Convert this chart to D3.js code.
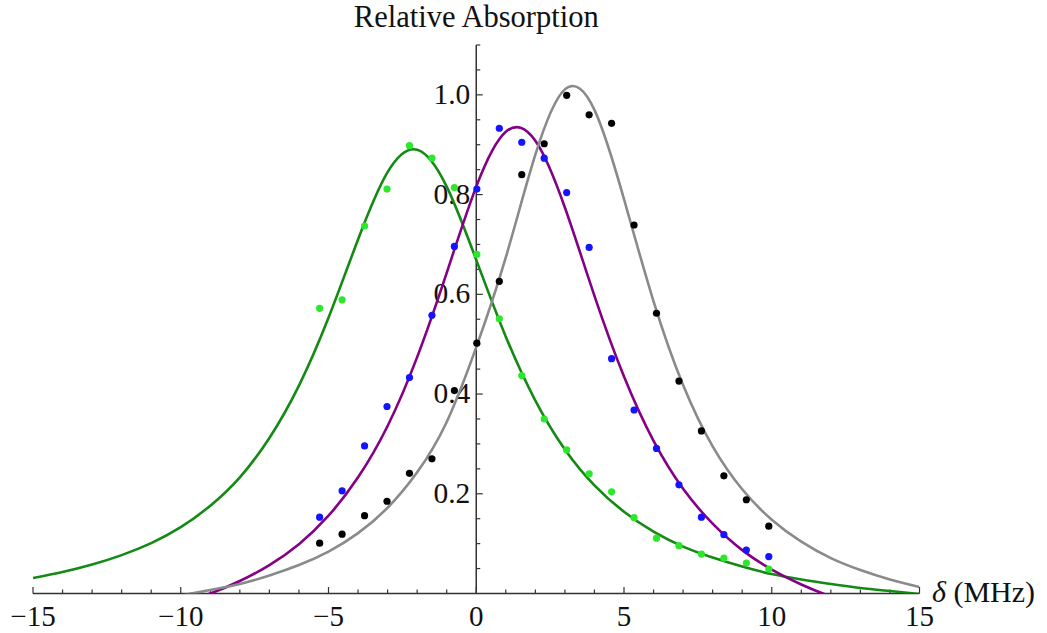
<!DOCTYPE html>
<html>
<head>
<meta charset="utf-8">
<script src="https://cdn.jsdelivr.net/npm/d3@7"></script>
<style>
  body { margin: 0; background: #fff; }
  text { font-family: "Liberation Serif", "Times New Roman", serif; fill: #111; }
</style>
</head>
<body>
<div id="chart"></div>
<script>
// measured detunings (MHz) shared by all three data sets
const xData = [-5.3, -4.54, -3.78, -3.02, -2.26, -1.5, -0.74, 0.02, 0.78, 1.54, 2.3,
  3.06, 3.82, 4.58, 5.34, 6.1, 6.86, 7.62, 8.38, 9.14, 9.9];

const greenPts = [0.572, 0.589, 0.737, 0.811, 0.898, 0.873, 0.814, 0.680, 0.551, 0.437, 0.350,
  0.288, 0.240, 0.204, 0.152, 0.111, 0.096, 0.079, 0.071, 0.061, 0.049];
const bluePts = [0.153, 0.206, 0.296, 0.375, 0.433, 0.558, 0.696, 0.811, 0.933, 0.905, 0.873,
  0.804, 0.694, 0.471, 0.368, 0.291, 0.218, 0.153, 0.118, 0.087, 0.074];
const blackPts = [0.101, 0.119, 0.156, 0.185, 0.241, 0.270, 0.407, 0.502, 0.626, 0.840, 0.902,
  0.999, 0.960, 0.943, 0.739, 0.562, 0.426, 0.326, 0.236, 0.188, 0.135];

// fitted curves at whole MHz steps
const xCurve = d3.range(-15, 16);
const greenFit = [0.031, 0.043, 0.058, 0.077, 0.101, 0.133, 0.176, 0.233, 0.312, 0.417, 0.553,
  0.710, 0.845, 0.890, 0.816, 0.669, 0.515, 0.387, 0.289, 0.217, 0.164, 0.124, 0.094, 0.072,
  0.054, 0.039, 0.028, 0.019, 0.011, 0.005, -0.001];
const purpleFit = [-0.073, -0.066, -0.058, -0.047, -0.035, -0.019, 0.000, 0.025, 0.057, 0.099,
  0.156, 0.233, 0.336, 0.474, 0.643, 0.816, 0.926, 0.908, 0.774, 0.597, 0.435, 0.306, 0.210,
  0.140, 0.087, 0.048, 0.018, -0.006, -0.024, -0.038, -0.050];
const grayFit = [-0.033, -0.029, -0.024, -0.019, -0.012, -0.004, 0.007, 0.019, 0.036, 0.057,
  0.084, 0.121, 0.172, 0.243, 0.344, 0.494, 0.674, 0.880, 1.011, 0.970, 0.791, 0.586, 0.418,
  0.295, 0.209, 0.148, 0.104, 0.071, 0.047, 0.028, 0.013];

const xTicks = [-15, -10, -5, 0, 5, 10, 15];
const yTicks = [0.2, 0.4, 0.6, 0.8, 1.0];

const width = 1047, height = 633;
const svg = d3.select("#chart").append("svg")
  .attr("width", width)
  .attr("height", height);

// scales
const x = d3.scaleLinear().domain([-15, 15]).range([33, 919.5]);
const y = d3.scaleLinear().domain([0, 1.1]).range([593.5, 45]);

svg.append("clipPath").attr("id", "plotClip")
  .append("rect")
  .attr("x", x(-15)).attr("y", y(1.1))
  .attr("width", x(15) - x(-15)).attr("height", y(0) - y(1.1));

// axes
const axisColor = "#333";
svg.append("line")
  .attr("x1", x(-15)).attr("x2", x(15))
  .attr("y1", y(0)).attr("y2", y(0))
  .attr("stroke", axisColor).attr("stroke-width", 1.5);
svg.append("line")
  .attr("x1", x(0)).attr("x2", x(0))
  .attr("y1", y(0)).attr("y2", y(1.1))
  .attr("stroke", axisColor).attr("stroke-width", 1.5);

// x ticks: major every 5, minor every 1, pointing up
svg.selectAll(".xtick")
  .data(d3.range(-15, 16))
  .enter().append("line")
  .attr("x1", d => x(d)).attr("x2", d => x(d))
  .attr("y1", y(0))
  .attr("y2", d => y(0) - (d % 5 === 0 ? 6.5 : 4))
  .attr("stroke", axisColor).attr("stroke-width", 1.2);

svg.selectAll(".xlabel")
  .data(xTicks)
  .enter().append("text")
  .attr("x", d => x(d))
  .attr("y", y(0) + 32)
  .attr("text-anchor", "middle")
  .style("font-size", "29px")
  .text(d => d < 0 ? "\u2212" + Math.abs(d) : d);

// y ticks: major every 0.2, minor every 0.05, pointing right
svg.selectAll(".ytick")
  .data(d3.range(1, 23).map(i => i * 0.05))
  .enter().append("line")
  .attr("x1", x(0))
  .attr("x2", (d, i) => x(0) + ((i + 1) % 4 === 0 ? 6.5 : 4))
  .attr("y1", d => y(d)).attr("y2", d => y(d))
  .attr("stroke", axisColor).attr("stroke-width", 1.2);

svg.selectAll(".ylabel")
  .data(yTicks)
  .enter().append("text")
  .attr("x", x(0) - 6)
  .attr("y", d => y(d) + 9)
  .attr("text-anchor", "end")
  .style("font-size", "29.5px")
  .text(d => d.toFixed(1));

// axis labels
svg.append("text")
  .attr("x", x(0))
  .attr("y", 27)
  .attr("text-anchor", "middle")
  .style("font-size", "30.5px")
  .text("Relative Absorption");

const xl = svg.append("text")
  .attr("x", 932)
  .attr("y", y(0) + 8)
  .style("font-size", "30px");
xl.append("tspan").style("font-style", "italic").text("\u03b4");
xl.append("tspan").text(" (MHz)");

// fitted curves
const line = d3.line()
  .x(d => x(d[0]))
  .y(d => y(d[1]))
  .curve(d3.curveNatural);

const curves = [
  { vals: greenFit, color: "#138a13" },
  { vals: purpleFit, color: "#850085" },
  { vals: grayFit, color: "#8a8a8a" }
];

svg.append("g").attr("clip-path", "url(#plotClip)")
  .selectAll("path")
  .data(curves)
  .enter().append("path")
  .attr("d", c => line(xCurve.map((xv, i) => [xv, c.vals[i]])))
  .attr("fill", "none")
  .attr("stroke", c => c.color)
  .attr("stroke-width", 2.6);

// data points
const sets = [
  { vals: greenPts, color: "#2be82b" },
  { vals: bluePts, color: "#1414ff" },
  { vals: blackPts, color: "#000" }
];

sets.forEach(s => {
  svg.append("g")
    .selectAll("circle")
    .data(xData.map((xv, i) => [xv, s.vals[i]]))
    .enter().append("circle")
    .attr("cx", d => x(d[0]))
    .attr("cy", d => y(d[1]))
    .attr("r", 3.6)
    .attr("fill", s.color);
});
</script>
</body>
</html>
